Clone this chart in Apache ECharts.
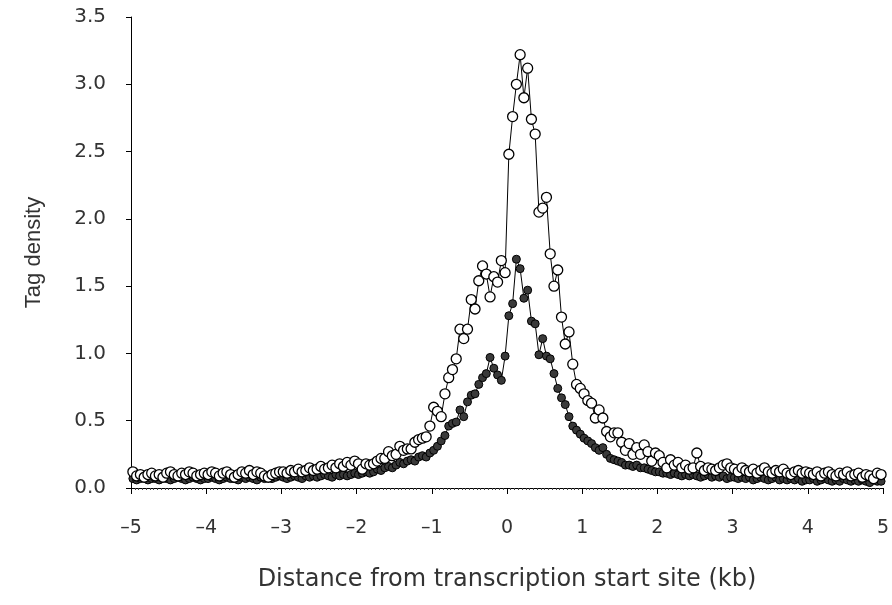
<!DOCTYPE html>
<html>
<head>
<meta charset="utf-8">
<script src="https://cdn.jsdelivr.net/npm/echarts@6/dist/echarts.min.js"></script>
<style>
  html, body { margin: 0; padding: 0; background: #fff; }
  #tss { width: 892px; height: 605px; }
</style>
</head>
<body>
<div id="tss"></div>
<script>
// tag density in 50 bp bins, -5 kb .. +5 kb (200 bins each)
var openDensity = [
    0.12, 0.09, 0.10, 0.08, 0.10, 0.11, 0.09, 0.10, 0.08, 0.11, 0.12, 0.10, 0.09, 0.11, 0.10, 0.12, 0.11, 0.09, 0.10, 0.11,
    0.10, 0.12, 0.11, 0.09, 0.11, 0.12, 0.10, 0.08, 0.10, 0.12, 0.11, 0.13, 0.10, 0.12, 0.11, 0.09, 0.08, 0.10, 0.11, 0.12,
    0.12, 0.11, 0.13, 0.12, 0.14, 0.12, 0.13, 0.15, 0.13, 0.14, 0.16, 0.14, 0.15, 0.17, 0.15, 0.18, 0.16, 0.19, 0.17, 0.20,
    0.18, 0.14, 0.18, 0.17, 0.18, 0.20, 0.22, 0.22, 0.27, 0.24, 0.25, 0.31, 0.28, 0.29, 0.29, 0.34, 0.36, 0.37, 0.38, 0.46,
    0.60, 0.57, 0.53, 0.70, 0.82, 0.88, 0.96, 1.18, 1.11, 1.18, 1.40, 1.33, 1.54, 1.65, 1.59, 1.42, 1.57, 1.53, 1.69, 1.60,
    2.48, 2.76, 3.00, 3.22, 2.90, 3.12, 2.74, 2.63, 2.05, 2.08, 2.16, 1.74, 1.50, 1.62, 1.27, 1.07, 1.16, 0.92, 0.77, 0.74,
    0.70, 0.65, 0.63, 0.52, 0.58, 0.52, 0.42, 0.38, 0.41, 0.41, 0.34, 0.28, 0.33, 0.25, 0.30, 0.25, 0.32, 0.27, 0.20, 0.26,
    0.24, 0.19, 0.15, 0.21, 0.17, 0.19, 0.15, 0.17, 0.14, 0.15, 0.26, 0.16, 0.13, 0.15, 0.14, 0.13, 0.15, 0.17, 0.18, 0.15,
    0.14, 0.12, 0.15, 0.13, 0.12, 0.14, 0.11, 0.13, 0.15, 0.12, 0.11, 0.13, 0.12, 0.14, 0.11, 0.10, 0.12, 0.13, 0.11, 0.12,
    0.11, 0.10, 0.12, 0.09, 0.11, 0.12, 0.10, 0.09, 0.11, 0.10, 0.12, 0.09, 0.10, 0.11, 0.08, 0.10, 0.09, 0.07, 0.11, 0.10
];
var filledDensity = [
    0.07, 0.06, 0.07, 0.08, 0.06, 0.07, 0.07, 0.06, 0.08, 0.07, 0.06, 0.07, 0.08, 0.07, 0.06, 0.07, 0.08, 0.07, 0.06, 0.07,
    0.07, 0.08, 0.07, 0.06, 0.07, 0.08, 0.07, 0.07, 0.06, 0.08, 0.07, 0.08, 0.07, 0.06, 0.08, 0.07, 0.08, 0.07, 0.08, 0.09,
    0.08, 0.07, 0.08, 0.09, 0.08, 0.07, 0.09, 0.08, 0.09, 0.08, 0.09, 0.10, 0.09, 0.08, 0.10, 0.09, 0.10, 0.09, 0.10, 0.11,
    0.10, 0.11, 0.12, 0.11, 0.12, 0.14, 0.13, 0.15, 0.16, 0.15, 0.17, 0.19, 0.18, 0.20, 0.21, 0.20, 0.23, 0.24, 0.23, 0.26,
    0.28, 0.31, 0.35, 0.39, 0.46, 0.48, 0.49, 0.58, 0.53, 0.64, 0.69, 0.70, 0.77, 0.82, 0.85, 0.97, 0.89, 0.84, 0.80, 0.98,
    1.28, 1.37, 1.70, 1.63, 1.41, 1.47, 1.24, 1.22, 0.99, 1.11, 0.98, 0.96, 0.85, 0.74, 0.67, 0.62, 0.53, 0.46, 0.43, 0.40,
    0.37, 0.35, 0.33, 0.30, 0.28, 0.30, 0.25, 0.22, 0.21, 0.20, 0.19, 0.17, 0.17, 0.16, 0.17, 0.15, 0.15, 0.14, 0.13, 0.12,
    0.12, 0.11, 0.11, 0.10, 0.11, 0.10, 0.09, 0.10, 0.09, 0.10, 0.09, 0.08, 0.09, 0.10, 0.08, 0.09, 0.08, 0.09, 0.07, 0.08,
    0.08, 0.07, 0.08, 0.07, 0.08, 0.06, 0.07, 0.08, 0.07, 0.06, 0.07, 0.08, 0.06, 0.07, 0.06, 0.07, 0.06, 0.07, 0.05, 0.06,
    0.06, 0.07, 0.05, 0.06, 0.07, 0.06, 0.05, 0.06, 0.05, 0.07, 0.06, 0.05, 0.06, 0.05, 0.06, 0.05, 0.04, 0.06, 0.05, 0.05
];
var xTicks = [-5, -4, -3, -2, -1, 0, 1, 2, 3, 4, 5];
var yTicks = [0, 0.5, 1.0, 1.5, 2.0, 2.5, 3.0, 3.5];

// bin centres: -4.975, -4.925, ... 4.975
var binStart = -4.975, binWidth = 0.05;
function pairs(vals) {
    return vals.map(function (v, i) {
        return [+(binStart + i * binWidth).toFixed(3), v];
    });
}

function renderTssChart() {
    var dom = document.getElementById('tss');
    var myChart = echarts.init(dom);
    var font = 'DejaVu Sans';
    var option;

    option = {
        animation: false,
        backgroundColor: '#fff',
        grid: {
            left: 131,
            right: 8,
            top: 17,
            bottom: 117
        },
        xAxis: {
            type: 'value',
            min: xTicks[0],
            max: xTicks[xTicks.length - 1],
            interval: 1,
            name: 'Distance from transcription start site (kb)',
            nameLocation: 'middle',
            nameGap: 80,
            nameTextStyle: { fontFamily: font, fontSize: 24, color: '#333' },
            axisLine: { lineStyle: { color: '#000', width: 1 } },
            axisTick: { show: true, length: 6, lineStyle: { color: '#000' } },
            minorTick: { show: true, splitNumber: 20, length: 2, lineStyle: { color: '#444' } },
            splitLine: { show: false },
            axisLabel: {
                margin: 31,
                fontFamily: font,
                fontSize: 19,
                color: '#333',
                formatter: function (v) {
                    return v < 0 ? '\u2013' + Math.abs(v) : String(v);
                }
            }
        },
        yAxis: {
            type: 'value',
            min: yTicks[0],
            max: yTicks[yTicks.length - 1],
            interval: 0.5,
            name: 'Tag density',
            nameLocation: 'middle',
            nameGap: 86,
            nameRotate: 90,
            nameTextStyle: { fontFamily: 'Liberation Sans', fontSize: 22, color: '#333' },
            axisLine: { show: true, onZero: false, lineStyle: { color: '#000', width: 1 } },
            axisTick: { show: true, length: 5, lineStyle: { color: '#000' } },
            splitLine: { show: false },
            axisLabel: {
                margin: 25,
                fontFamily: font,
                fontSize: 20,
                color: '#333',
                formatter: function (v) { return v.toFixed(1); }
            }
        },
        series: [{
                name: 'filled',
                type: 'line',
                data: pairs(filledDensity),
                symbol: 'circle',
                symbolSize: 8,
                showAllSymbol: true,
                lineStyle: { color: '#000', width: 1 },
                itemStyle: { color: '#3a3a3a', borderColor: '#000', borderWidth: 1 },
                z: 2
            },
            {
                name: 'open',
                type: 'line',
                data: pairs(openDensity),
                symbol: 'circle',
                symbolSize: 10,
                showAllSymbol: true,
                lineStyle: { color: '#000', width: 1 },
                itemStyle: { color: '#fff', borderColor: '#000', borderWidth: 1.3 },
                z: 3
            }
        ]
    };

    if (option && typeof option === 'object') {
        myChart.setOption(option);
    }
}
renderTssChart();
</script>
</body>
</html>
